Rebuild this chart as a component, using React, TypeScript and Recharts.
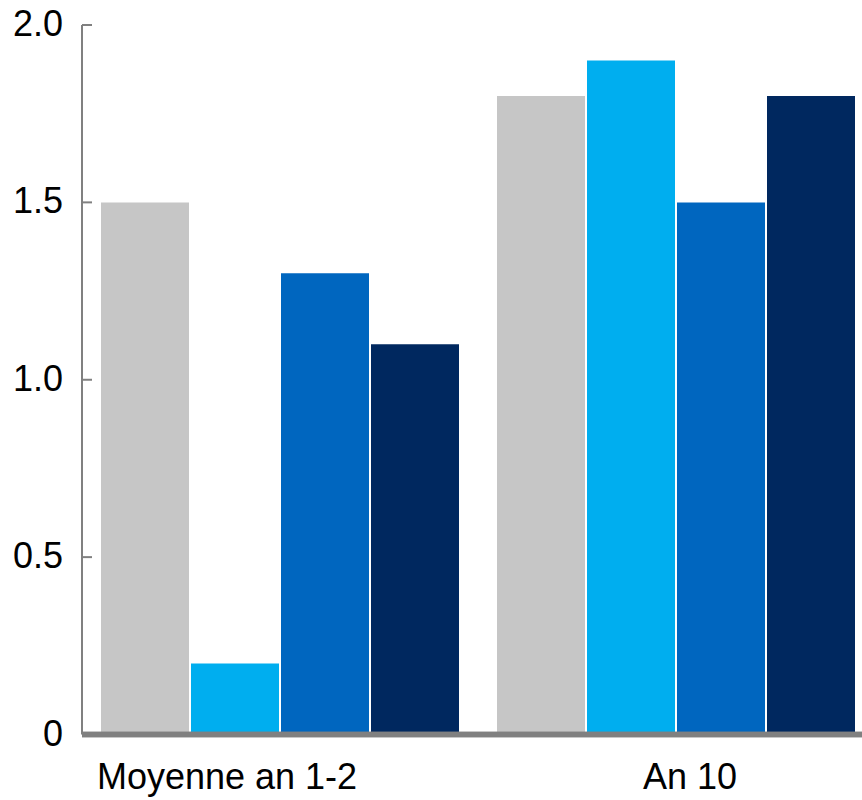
import { BarChart, Bar, XAxis, YAxis, ReferenceLine } from 'recharts'

const categories = ['Moyenne an 1-2', 'An 10']
const seriesGrey = [1.5, 1.8]
const seriesSky = [0.2, 1.9]
const seriesBlue = [1.3, 1.5]
const seriesNavy = [1.1, 1.8]
const yTicks = [0, 0.5, 1, 1.5, 2]
const yTickLabels = ['0', '0.5', '1.0', '1.5', '2.0']

const COLORS = {
  grey: '#c6c6c6',
  sky: '#00aeef',
  blue: '#0066bf',
  navy: '#00285f',
  axis: '#808080',
  ink: '#000000',
}

const FONT = '"Liberation Sans", Arial, sans-serif'

// category labels sit a little off the group centres
const LABEL_SHIFT = [-53, 14]

const data = categories.map((name, i) => ({
  name,
  grey: seriesGrey[i],
  sky: seriesSky[i],
  blue: seriesBlue[i],
  navy: seriesNavy[i],
}))

function YTick({ x, y, payload }: any) {
  return (
    <g>
      <line x1={x} x2={x + 10} y1={y} y2={y} stroke={COLORS.axis} strokeWidth={2} />
      <text x={x - 19} y={y + 11} textAnchor="end" fontSize={36} fontFamily={FONT} fill={COLORS.ink}>
        {yTickLabels[yTicks.indexOf(payload.value)] ?? payload.value}
      </text>
    </g>
  )
}

function XTick({ x, y, payload, index }: any) {
  return (
    <text x={x + (LABEL_SHIFT[index] ?? 0)} y={y + 52} textAnchor="middle" fontSize={36} fontFamily={FONT} fill={COLORS.ink}>
      {payload.value}
    </text>
  )
}

export default function App() {
  return (
    <div style={{ position: 'absolute', left: 0, top: 0, width: 862, height: 800, overflow: 'hidden', background: '#fff' }}>
      <BarChart
        width={874}
        height={800}
        data={data}
        margin={{ top: 25, right: 0, left: 0, bottom: 0 }}
        barSize={88}
        barGap={2}
      >
        <XAxis
          dataKey="name"
          height={65.5}
          axisLine={{ stroke: COLORS.axis, strokeWidth: 5.5 }}
          tickLine={false}
          tickSize={0}
          tick={<XTick />}
        />
        <YAxis
          width={82}
          domain={[0, 2]}
          ticks={yTicks}
          interval={0}
          axisLine={{ stroke: COLORS.axis, strokeWidth: 2 }}
          tickLine={false}
          tickSize={0}
          tickMargin={0}
          tick={<YTick />}
        />
        <Bar dataKey="grey" fill={COLORS.grey} isAnimationActive={false} />
        <Bar dataKey="sky" fill={COLORS.sky} isAnimationActive={false} />
        <Bar dataKey="blue" fill={COLORS.blue} isAnimationActive={false} />
        <Bar dataKey="navy" fill={COLORS.navy} isAnimationActive={false} />
        {/* covers the bar feet so the thick baseline reads on top */}
        <ReferenceLine y={0} stroke={COLORS.axis} strokeWidth={5.5} ifOverflow="visible" />
      </BarChart>
    </div>
  )
}
